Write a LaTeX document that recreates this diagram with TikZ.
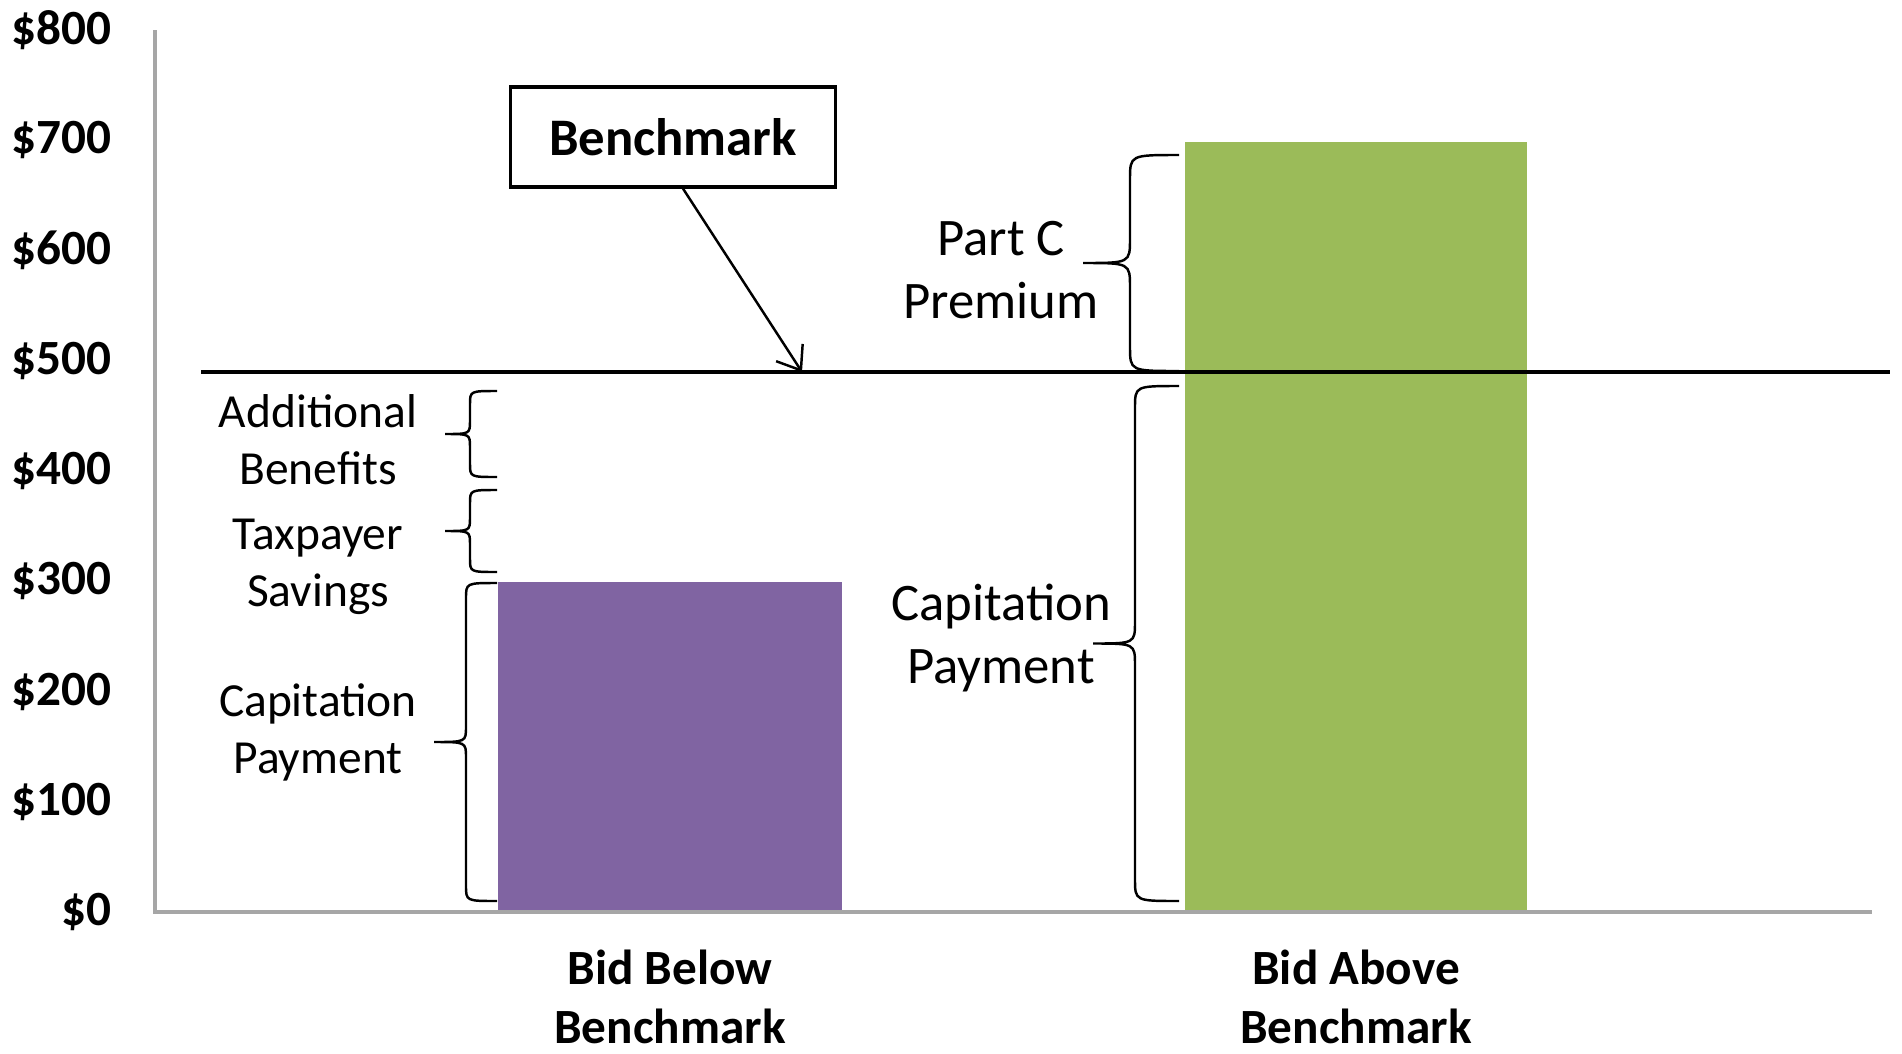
\documentclass[tikz,border=0pt]{standalone}
\usepackage{fontspec}
\setmainfont{Carlito}
\usetikzlibrary{arrows.meta}
\definecolor{barpurple}{HTML}{8064A2}
\definecolor{bargreen}{HTML}{9BBB59}
\definecolor{axisgray}{HTML}{A6A6A6}
% right end x, spine x, tip x, top y, bottom y
\newcommand{\curlybrace}[5]{%
  \pgfmathsetmacro{\braceymid}{(#4+#5)/2}%
  \pgfmathsetmacro{\bracecurl}{(#1-#2)*0.5}%
  \draw[bracestyle] (#1,#4) .. controls (#2,#4) .. (#2,#4+\bracecurl)
    -- (#2,\braceymid-\bracecurl) .. controls (#2,\braceymid) .. (#3,\braceymid)
    .. controls (#2,\braceymid) .. (#2,\braceymid+\bracecurl)
    -- (#2,#5-\bracecurl) .. controls (#2,#5) .. (#1,#5);}
\begin{document}
\begin{tikzpicture}[x=0.01cm, y=-0.01cm,
    ticklabel/.style={anchor=east, inner sep=0pt, font=\fontsize{14}{17}\selectfont\bfseries},
    sidelabel/.style={align=center, font=\fontsize{13.5}{16.2}\selectfont},
    biglabel/.style={align=center, font=\fontsize{15}{18}\selectfont},
    catlabel/.style={align=center, font=\fontsize{14}{16.6}\selectfont\bfseries},
    bracestyle/.style={line width=0.7pt}]
    \useasboundingbox (0, 0) rectangle (1902, 1054);
    \fill[barpurple] (498, 582) rectangle (842, 912);
    \fill[bargreen] (1185, 142) rectangle (1527, 912);
    \draw[axisgray, line width=1pt] (155, 30) -- (155, 912) -- (1872, 912);
    \foreach \v [count=\i from 0] in {0,100,...,800}
      \node[ticklabel] (tick\i) at (112, 912 - 110.25*\i) {\$\v};
    \draw[line width=0.9pt] (201, 372) coordinate (bmleft) -- (1890, 372) coordinate (bmright);
    \coordinate (bmtip) at (802, 372);
    \node[draw, line width=0.9pt, minimum width=3.25cm, minimum height=1cm,
      font=\fontsize{15}{18}\selectfont\bfseries] (bmbox) at (673, 137) {Benchmark};
    \draw[-{Straight Barb[length=6pt,width=9pt]}, line width=0.7pt]
      ([xshift=0.1cm]bmbox.south) -- (bmtip);
    \curlybrace{497}{470}{445}{391}{477}
    \curlybrace{497}{470}{445}{490}{572}
    \curlybrace{497}{466}{434}{583}{901}
    \curlybrace{1179}{1130}{1083}{155}{371}
    \curlybrace{1179}{1135}{1093}{386}{901}
    \node[sidelabel] (addben) at (318, 440) {Additional\\Benefits};
    \node[sidelabel] (taxsav) at (318, 567) {Taxpayer\\Savings};
    \node[sidelabel] (capleft) at (318, 732) {Capitation\\Payment};
    \node[biglabel] (partc) at (1001, 270) {Part C\\Premium};
    \node[biglabel] (capright) at (1001, 638) {Capitation\\Payment};
    \node[catlabel] (bidbelow) at (670, 997) {Bid Below\\Benchmark};
    \node[catlabel] (bidabove) at (1356, 997) {Bid Above\\Benchmark};
  \end{tikzpicture}
\end{document}
